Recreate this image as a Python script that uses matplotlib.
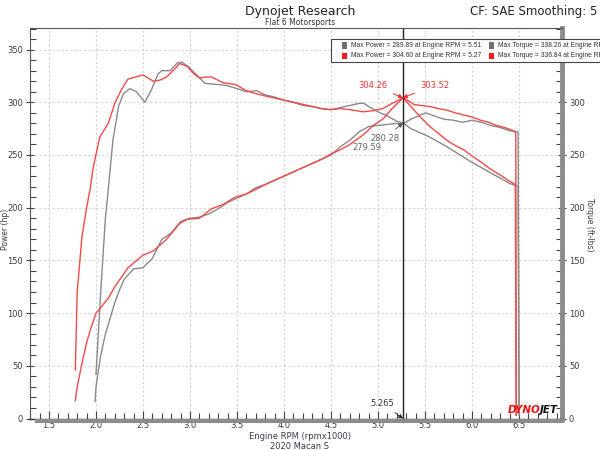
import matplotlib
matplotlib.use("Agg")
import matplotlib.pyplot as plt
from matplotlib.patches import Rectangle
from matplotlib.ticker import MultipleLocator

# ---------------- data ----------------
red_tq_rpm = [1.78, 1.80, 1.85, 1.90, 1.94, 1.97, 2.04, 2.13, 2.20, 2.27, 2.34, 2.42, 2.50, 2.61, 2.68,
              2.75, 2.82, 2.89, 2.97, 3.03, 3.10, 3.17, 3.23, 3.35, 3.48, 3.60, 3.67, 3.80, 3.90,
              4.00, 4.10, 4.20, 4.30, 4.40, 4.50, 4.60, 4.70, 4.84, 4.95, 5.05, 5.15, 5.265,
              5.35, 5.45, 5.55, 5.65, 5.73, 5.82, 5.91, 6.00, 6.10, 6.19, 6.30, 6.40, 6.46, 6.47]
red_tq = [46, 120, 172, 200, 219, 238, 267, 280, 299, 312, 322, 324, 326, 320, 321,
          324, 330, 336.8, 334, 328, 323, 324, 324, 318.6, 317, 311, 309, 306, 304,
          302, 300, 298, 296, 294, 293, 294, 293, 291, 292, 294, 299, 304.26,
          296, 286, 277, 270, 264, 259, 255, 249, 243, 237, 231, 225, 222, 3]

red_hp_rpm = [1.78, 1.80, 1.85, 1.90, 1.94, 2.00, 2.04, 2.13, 2.20, 2.34, 2.50, 2.61, 2.75, 2.89,
              2.97, 3.10, 3.23, 3.35, 3.48, 3.60, 3.67, 3.80, 3.90, 4.00, 4.10, 4.20, 4.30, 4.40,
              4.50, 4.60, 4.70, 4.84, 4.95, 5.05, 5.15, 5.27, 5.38, 5.45, 5.55, 5.64, 5.73,
              5.82, 5.91, 6.00, 6.09, 6.18, 6.26, 6.35, 6.44, 6.465, 6.47]
red_hp = [17, 30, 52, 72, 84, 100, 104, 114, 125, 143, 155, 159, 170, 185,
          189, 190, 199, 203, 210, 213, 216, 222, 226, 230, 234, 238, 242, 246,
          251, 255, 260, 269, 278, 284, 294, 304.6, 298, 297, 296, 294, 292.6,
          290, 288, 286, 283, 281, 278, 276, 273, 271, 3]

gray_tq_rpm = [2.00, 2.05, 2.10, 2.13, 2.18, 2.24, 2.29, 2.36, 2.43, 2.52, 2.59, 2.66, 2.70,
               2.79, 2.86, 2.91, 2.98, 3.07, 3.16, 3.28, 3.39, 3.50, 3.60, 3.71, 3.80, 3.90,
               4.00, 4.10, 4.20, 4.30, 4.40, 4.50, 4.60, 4.70, 4.80, 4.85, 4.90, 5.00, 5.10,
               5.20, 5.265, 5.35, 5.45, 5.55, 5.65, 5.73, 5.82, 5.91, 6.00, 6.10, 6.20, 6.30,
               6.40, 6.49, 6.50]
gray_tq = [42, 120, 190, 217, 264, 296, 308, 313, 310, 300, 312, 327, 330,
           330, 337, 338.26, 334, 326, 318, 317, 316, 313, 310, 311, 307, 305,
           302, 300, 297, 296, 294, 293, 295, 297, 299, 299, 296, 291, 287,
           282, 280.28, 275, 271, 267, 262, 258, 253, 248, 243, 238, 233, 228,
           223, 220, 3]

gray_hp_rpm = [1.99, 2.00, 2.05, 2.10, 2.15, 2.20, 2.25, 2.30, 2.40, 2.50, 2.60, 2.70, 2.80,
               2.90, 3.00, 3.10, 3.20, 3.30, 3.40, 3.50, 3.60, 3.70, 3.80, 3.90, 4.00, 4.10,
               4.20, 4.30, 4.40, 4.50, 4.60, 4.70, 4.80, 4.90, 5.00, 5.10, 5.20, 5.265, 5.35,
               5.45, 5.51, 5.60, 5.70, 5.80, 5.90, 6.00, 6.10, 6.20, 6.30, 6.40, 6.49, 6.50]
gray_hp = [16, 30, 60, 80, 95, 110, 122, 132, 142, 143, 152, 170, 176,
           187, 190, 191, 194, 199, 205, 209, 213, 219, 222, 226, 230, 234,
           238, 242, 246, 250, 258, 264, 272, 277, 278, 279, 280, 279.59, 284,
           288, 289.89, 287, 284, 283, 281, 283, 281, 278, 276, 273, 272, 3]

cursor_rpm = 5.265
legend_rows = [("Max Power = 289.89 at Engine RPM = 5.51", "Max Torque = 338.26 at Engine RPM = 2.91", "#707070"),
               ("Max Power = 304.60 at Engine RPM = 5.27", "Max Torque = 336.84 at Engine RPM = 2.89", "#ff1a1a")]

RED = "#f24a4a"
GRAY = "#8a8a8a"
TXT = "#3a3a50"

fig = plt.figure(figsize=(6, 4.5), dpi=100)
ax = fig.add_axes([0.05, 0.07, 0.8867, 0.8678])

ax.plot(gray_tq_rpm, gray_tq, color=GRAY, lw=1.0)
ax.plot(gray_hp_rpm, gray_hp, color=GRAY, lw=1.0)
ax.plot(red_tq_rpm, red_tq, color=RED, lw=1.0)
ax.plot(red_hp_rpm, red_hp, color=RED, lw=1.0)

ax.set_xlim(1.298, 6.957)
ax.set_ylim(0, 370.5)
ax.axvline(cursor_rpm, color="#222222", lw=1.0)

ax.xaxis.set_major_locator(MultipleLocator(0.5))
ax.xaxis.set_minor_locator(MultipleLocator(0.1))
ax.yaxis.set_major_locator(MultipleLocator(50))
ax.yaxis.set_minor_locator(MultipleLocator(10))
ax.set_xticks([1.5, 2.0, 2.5, 3.0, 3.5, 4.0, 4.5, 5.0, 5.5, 6.0, 6.5])
ax.set_xticklabels(["1.5", "2.0", "2.5", "3.0", "3.5", "4.0", "4.5", "5.0", "5.5", "6.0", "6.5"])
ax.grid(True, which="major", color="#d4d4d4", linestyle=(0, (2, 2)), lw=0.8)
ax.tick_params(which="major", direction="inout", length=6, width=0.8, color="#444444",
               labelsize=6, labelcolor=TXT, left=True, right=True, labelright=True, pad=2)
ax.tick_params(which="minor", direction="in", length=4, width=0.8, color="#444444",
               left=True, right=True)
ax.tick_params(axis="x", which="major", direction="in", length=6)

for s in ["top", "left"]:
    ax.spines[s].set_color("#555555")
    ax.spines[s].set_linewidth(0.8)
ax.spines["right"].set_color("#8c8c8c")
ax.spines["right"].set_linewidth(3.5)
ax.spines["bottom"].set_color("#333333")
ax.spines["bottom"].set_linewidth(1.0)
# shadow under bottom axis
fig.patches.append(Rectangle((0.058, 0.061), 0.882, 0.008, transform=fig.transFigure,
                             facecolor="#8c8c8c", edgecolor="none"))

fig.text(0.009, 0.49, "Power (hp)", rotation=90, fontsize=5.5, color=TXT,
         ha="center", va="center")
fig.text(0.983, 0.50, "Torque (ft-lbs)", rotation=270, fontsize=5.5, color=TXT,
         ha="center", va="center")
fig.text(0.5, 0.031, "Engine RPM (rpmx1000)", fontsize=6, color=TXT, ha="center", va="center")
fig.text(0.5, 0.007, "2020 Macan S", fontsize=6, color=TXT, ha="center", va="center")
fig.text(0.5, 0.975, "Dynojet Research", fontsize=9, color="#222222", ha="center", va="center")
fig.text(0.5, 0.95, "Flat 6 Motorsports", fontsize=5.5, color="#333333", ha="center", va="center")
fig.text(0.995, 0.975, "CF: SAE Smoothing: 5", fontsize=8.5, color="#222222", ha="right", va="center")

# legend box
fig.patches.append(Rectangle((0.552, 0.862), 0.47, 0.051, transform=fig.transFigure,
                             facecolor="white", edgecolor="#444444", lw=0.8, zorder=5))
for i, (t1, t2, c) in enumerate(legend_rows):
    y = 0.899 - i * 0.023
    fig.patches.append(Rectangle((0.570, y - 0.007), 0.009, 0.014, transform=fig.transFigure,
                                 facecolor=c, edgecolor="none", zorder=6))
    fig.text(0.585, y, t1, fontsize=4.9, family="Liberation Sans", color="#333333",
             va="center", zorder=7)
    fig.patches.append(Rectangle((0.815, y - 0.007), 0.009, 0.014, transform=fig.transFigure,
                                 facecolor=c, edgecolor="none", zorder=6))
    fig.text(0.830, y, t2, fontsize=4.9, family="Liberation Sans", color="#333333",
             va="center", zorder=7)

# annotations
ax.annotate("304.26", xy=(cursor_rpm, 304.3), xytext=(4.95, 316), fontsize=6, color="#f03030",
            ha="center", va="center",
            arrowprops=dict(arrowstyle="-|>", color="#f03030", lw=0.7, mutation_scale=6,
                            shrinkA=2, shrinkB=0))
ax.annotate("303.52", xy=(cursor_rpm, 304.3), xytext=(5.60, 316), fontsize=6, color="#f03030",
            ha="center", va="center",
            arrowprops=dict(arrowstyle="-|>", color="#f03030", lw=0.7, mutation_scale=6,
                            shrinkA=2, shrinkB=0))
ax.annotate("280.28", xy=(cursor_rpm, 280.3), xytext=(5.07, 266), fontsize=6, color="#666666",
            ha="center", va="center",
            arrowprops=dict(arrowstyle="-|>", color="#555555", lw=0.7, mutation_scale=6,
                            shrinkA=2, shrinkB=0))
ax.text(4.88, 257, "279.59", fontsize=6, color="#666666", ha="center", va="center")
ax.annotate("5.265", xy=(cursor_rpm, 0), xytext=(5.05, 14), fontsize=6, color="#333333",
            ha="center", va="center",
            arrowprops=dict(arrowstyle="-|>", color="#222222", lw=0.6, mutation_scale=6,
                            shrinkA=2, shrinkB=0))

# DYNOJET logo
ax.text(6.725, 3, "DYNO", fontsize=7.5, fontweight="bold", style="italic", color="#ee1111",
        ha="right", va="bottom", zorder=6)
ax.text(6.725, 3, "JET", fontsize=7.5, fontweight="bold", style="italic", color="#111111",
        ha="left", va="bottom", zorder=6)

fig.savefig("out.png", dpi=100)
